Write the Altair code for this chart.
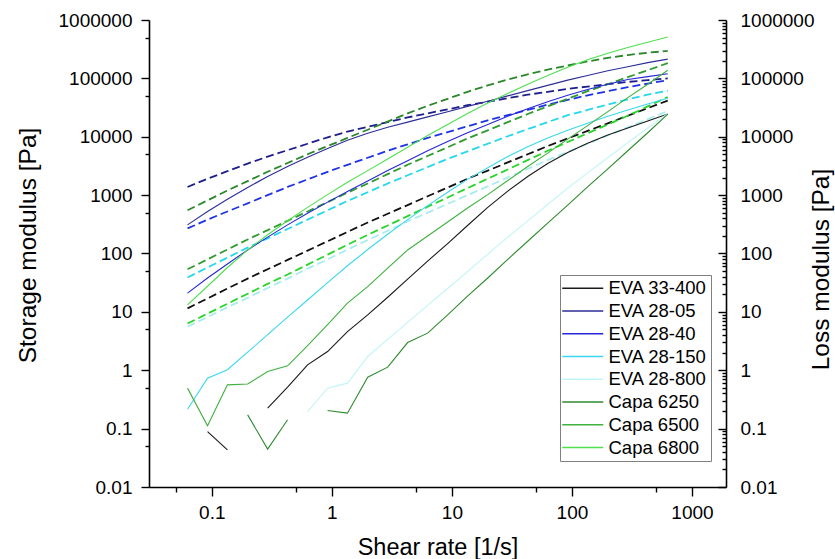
import altair as alt
import pandas as pd

FONT = "Liberation Sans"

# Shear rate grid [1/s] (6 points per decade)
SHEAR_RATE = [0.0628, 0.0922, 0.135, 0.199, 0.292, 0.428, 0.628, 0.922, 1.35, 1.99,
              2.92, 4.28, 6.28, 9.22, 13.5, 19.9, 29.2, 42.8, 62.8, 92.2,
              135, 199, 292, 428, 628]

SERIES = ["EVA 33-400", "EVA 28-05", "EVA 28-40", "EVA 28-150", "EVA 28-800",
          "Capa 6250", "Capa 6500", "Capa 6800"]
COLORS_SOLID = ["#1a1a1a", "#2d2d96", "#2626d9", "#3ad7ef", "#c2f5f5",
                "#2e8b2e", "#3fb13f", "#4fe04f"]
COLORS_DASHED = ["#111111", "#1e1e8c", "#1f33e6", "#25d8ec", "#a8ecec",
                 "#28d428", "#2f9b2f", "#2b872b"]

# Storage modulus G' [Pa] (None = no point)
G1_EVA_33_400 = [None, 0.0891, 0.0434, None, 0.224, 0.514, 1.24, 2.09, 4.60, 8.91,
                 17.8, 36.3, 74.1, 148, 302, 617, 1170, 2090, 3470, 5370,
                 7760, 10700, 14100, 18600, 24500]
G1_EVA_28_05 = [309, 525, 851, 1350, 2090, 3090, 4470, 6310, 8710, 11500,
                14500, 17800, 21900, 26900, 33100, 40700, 50100, 61700, 75900, 93300,
                112000, 135000, 158000, 186000, 214000]
G1_EVA_28_40 = [20.9, 38.0, 66.1, 115, 191, 309, 490, 759, 1150, 1740,
                2630, 3890, 5750, 8320, 11700, 16200, 22400, 30200, 39800, 51300,
                64600, 79400, 95500, 107000, 120000]
G1_EVA_28_150 = [0.215, 0.733, 1.02, 2.04, 4.07, 8.13, 16.0, 31.6, 61.7, 117,
                 214, 380, 661, 1120, 1860, 2950, 4570, 6760, 9550, 12900,
                 17000, 22400, 28800, 36300, 45700]
G1_EVA_28_800 = [None, None, None, None, None, None, 0.196, 0.494, 0.601, 1.72,
                 3.39, 6.61, 12.9, 25.1, 49.0, 97.7, 191, 363, 692, 1320,
                 2400, 4370, 7940, 14100, 25100]
G1_CAPA_6250 = [None, None, None, 0.172, 0.0446, 0.142, None, 0.204, 0.184, 0.762,
                1.13, 2.98, 4.32, 8.91, 18.6, 38.0, 79.4, 162, 331, 676,
                1380, 2820, 5750, 11700, 24500]
G1_CAPA_6500 = [0.494, 0.112, 0.562, 0.581, 0.951, 1.19, 2.63, 6.03, 14.1, 27.1,
                56.2, 115, 200, 347, 603, 1020, 1780, 3090, 5250, 9120,
                15500, 26900, 46800, 79400, 138000]
G1_CAPA_6800 = [13.2, 27.5, 57.5, 115, 209, 363, 617, 1020, 1660, 2630,
                4170, 6610, 10500, 16200, 25100, 38000, 55000, 79400, 112000, 155000,
                209000, 269000, 339000, 417000, 513000]

# Loss modulus G'' [Pa]
G2_EVA_33_400 = [11.5, 17.0, 25.1, 37.2, 53.7, 77.6, 112, 162, 234, 339,
                 479, 676, 955, 1350, 1910, 2630, 3630, 5010, 6920, 9330,
                 12600, 17000, 22900, 30900, 41700]
G2_EVA_28_05 = [1380, 1910, 2570, 3470, 4570, 5890, 7590, 9770, 12300, 14800,
                17800, 21400, 25100, 29500, 34700, 39800, 45700, 52500, 58900, 66100,
                72400, 79400, 87100, 93300, 100000]
G2_EVA_28_40 = [269, 380, 525, 724, 1000, 1380, 1860, 2510, 3310, 4370,
                5750, 7410, 9550, 12000, 15100, 19100, 23400, 28800, 35500, 42700,
                51300, 60300, 70800, 81300, 93300]
G2_EVA_28_150 = [38.9, 57.5, 85.1, 126, 182, 263, 380, 550, 794, 1120,
                 1580, 2190, 3020, 4170, 5620, 7590, 10200, 13500, 17800, 23400,
                 28800, 35500, 43700, 52500, 61700]
G2_EVA_28_800 = [5.62, 8.13, 12.0, 17.4, 25.7, 37.2, 55.0, 79.4, 117, 170,
                 245, 355, 501, 708, 1000, 1410, 2000, 2820, 3980, 5500,
                 7590, 10500, 14500, 20000, 27500]
G2_CAPA_6250 = [6.31, 9.33, 13.8, 20.4, 30.2, 43.7, 64.6, 95.5, 141, 209,
                302, 437, 631, 912, 1320, 1910, 2750, 3980, 5750, 8130,
                11500, 16200, 22900, 33100, 47900]
G2_CAPA_6500 = [53.7, 79.4, 117, 174, 251, 363, 525, 759, 1100, 1580,
                2290, 3310, 4680, 6610, 9330, 12900, 17800, 24500, 33100, 44700,
                60300, 79400, 105000, 138000, 182000]
G2_CAPA_6800 = [550, 813, 1200, 1740, 2510, 3550, 5010, 6920, 9550, 13200,
                18200, 25100, 33900, 44700, 58900, 75900, 95500, 117000, 141000, 166000,
                195000, 224000, 251000, 275000, 295000]

X_MAJOR = [0.1, 1, 10, 100, 1000]
X_MINOR = [0.05, 0.5, 5, 50, 500]
Y_MAJOR = [0.01, 0.1, 1, 10, 100, 1000, 10000, 100000, 1000000]
Y_MINOR = [0.05, 0.5, 5, 50, 500, 5000, 50000, 500000]
Y_MINOR_RIGHT = [d * m for d in [0.01, 0.1, 1, 10, 100, 1000, 10000, 100000]
                 for m in range(2, 10)]

STORAGE = [G1_EVA_33_400, G1_EVA_28_05, G1_EVA_28_40, G1_EVA_28_150, G1_EVA_28_800,
           G1_CAPA_6250, G1_CAPA_6500, G1_CAPA_6800]
LOSS = [G2_EVA_33_400, G2_EVA_28_05, G2_EVA_28_40, G2_EVA_28_150, G2_EVA_28_800,
        G2_CAPA_6250, G2_CAPA_6500, G2_CAPA_6800]


def build(values_list, colors, tag):
    rows = []
    for name, vals, col in zip(SERIES, values_list, colors):
        seg = 0
        for x, v in zip(SHEAR_RATE, vals):
            if v is None:
                seg += 1
                continue
            rows.append({"series": name, "seg": f"{tag}-{name}-{seg}", "x": x,
                         "y": v, "col": col})
    return pd.DataFrame(rows)


df_solid = build(STORAGE, COLORS_SOLID, "s")
df_dash = build(LOSS, COLORS_DASHED, "d")

W, H = 577, 467
xscale = alt.Scale(type="log", domain=[0.03, 1920], nice=False)
yscale = alt.Scale(type="log", domain=[0.01, 1000000], nice=False)

common_axis = dict(grid=False, domainColor="black", tickColor="black",
                   labelColor="black", titleColor="black", labelFont=FONT,
                   titleFont=FONT, titleFontWeight="normal", domainWidth=1.6,
                   tickWidth=1.4)

x_major = alt.Axis(orient="bottom", values=X_MAJOR, format=".2~f", tickSize=9,
                   labelPadding=22, labelBaseline="alphabetic", labelFontSize=19,
                   labelFlush=False, labelOverlap=False,
                   title="Shear rate [1/s]", titleFontSize=23.5, titleX=288.5,
                   titleY=67, titleBaseline="alphabetic", titleAlign="center",
                   titleAnchor="middle", **common_axis)
x_minor = alt.Axis(orient="bottom", values=X_MINOR, labels=False, tickSize=5,
                   domain=False, title=None, **common_axis)
y_major = alt.Axis(orient="left", values=Y_MAJOR, format=".2~f", tickSize=8,
                   labelPadding=9, labelFontSize=19, labelFlush=False,
                   labelOverlap=False, labelBaseline="middle",
                   title="Storage modulus [Pa]", titleFontSize=24.5,
                   titleAngle=270, titleX=-114, titleY=225,
                   titleBaseline="alphabetic", titleAlign="center", **common_axis)
y_minor = alt.Axis(orient="left", values=Y_MINOR, labels=False, tickSize=4,
                   domain=False, title=None, **common_axis)
y_right_labels = alt.Axis(orient="right", values=Y_MAJOR, format=".2~f",
                          ticks=False, labelPadding=14, labelFontSize=19,
                          labelFlush=False, labelOverlap=False,
                          labelBaseline="middle",
                          title="Loss modulus [Pa]", titleFontSize=24.5,
                          titleAngle=270, titleX=102, titleY=249,
                          titleBaseline="alphabetic", titleAlign="center",
                          **common_axis)
y_right_major = alt.Axis(orient="left", offset=-W, values=Y_MAJOR, labels=False,
                         tickSize=8, domain=False, title=None, **common_axis)
y_right_minor = alt.Axis(orient="left", offset=-W, values=Y_MINOR_RIGHT,
                         labels=False, tickSize=4, domain=False, title=None,
                         **common_axis)

solid = alt.Chart(df_solid).mark_line(strokeWidth=1.1).encode(
    x=alt.X("x:Q", scale=xscale, axis=x_major),
    y=alt.Y("y:Q", scale=yscale, axis=y_major),
    color=alt.Color("series:N", scale=alt.Scale(domain=SERIES, range=COLORS_SOLID),
                    legend=alt.Legend(orient="none", legendX=411, legendY=255,
                                      title=None, symbolType="M-2.2,0H6",
                                      symbolSize=100, symbolStrokeWidth=1.5,
                                      labelFontSize=18.5, labelFont=FONT,
                                      labelColor="black", labelOffset=26,
                                      rowPadding=3.75, padding=4,
                                      strokeColor="#808080", fillColor="white")),
    detail="seg:N",
)

dashed = alt.Chart(df_dash).mark_line(strokeWidth=1.8, strokeDash=[8, 4]).encode(
    x=alt.X("x:Q", scale=xscale, axis=x_minor),
    y=alt.Y("y:Q", scale=yscale, axis=y_minor),
    color=alt.Color("col:N", scale=None),
    detail="seg:N",
)


def dummy(axis):
    return alt.Chart(df_solid).mark_point(opacity=0, size=1).encode(
        x=alt.X("x:Q", scale=xscale, axis=None),
        y=alt.Y("y:Q", scale=yscale, axis=axis),
    )


chart = alt.layer(
    dummy(y_right_labels), dummy(y_right_major), dummy(y_right_minor),
    dashed, solid,
).resolve_axis(x="independent", y="independent").properties(
    width=W, height=H,
    padding={"left": 149, "top": 20, "right": 109, "bottom": 72},
    autosize=alt.AutoSizeParams(type="none"),
    background="white",
).configure_view(stroke=None)

chart.save("out.html", embed_options={"renderer": "svg", "actions": False})
